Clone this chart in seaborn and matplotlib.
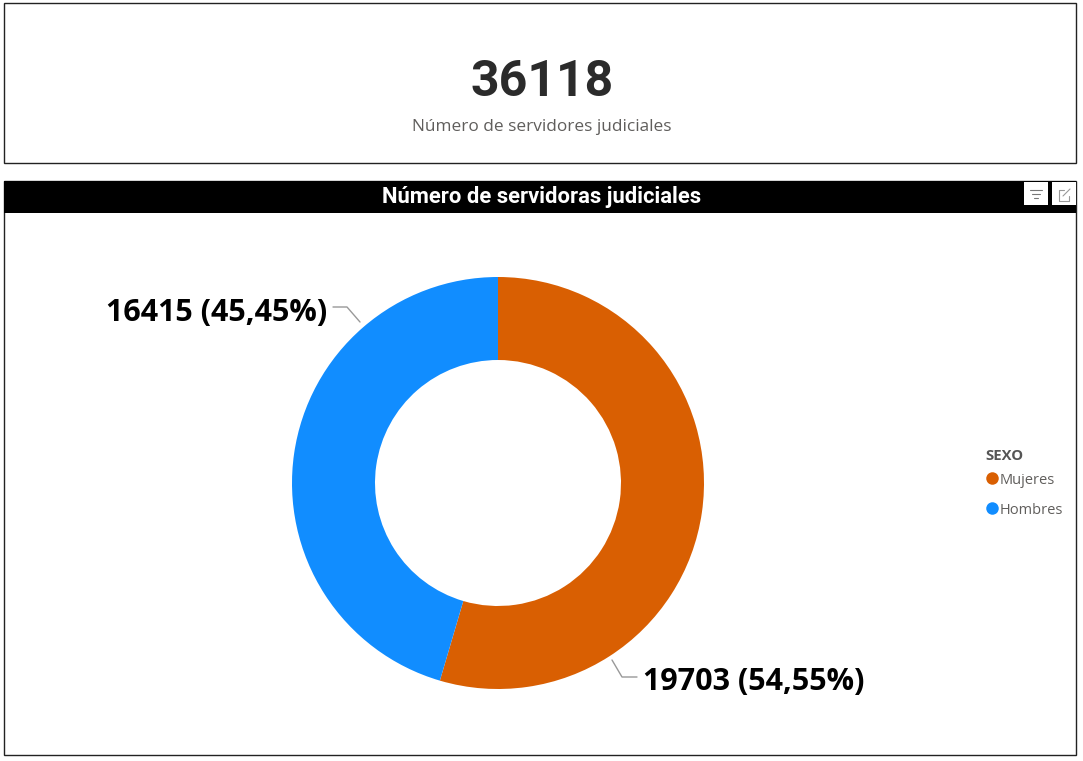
# donut chart of judicial staff by sex, with a KPI card on top
import matplotlib
matplotlib.use("AGG")
import matplotlib.pyplot as plt
from matplotlib.patches import Rectangle
import seaborn as sns

total_value = "36118"
total_label = "Número de servidores judiciales"
chart_title = "Número de servidoras judiciales"
legend_title = "SEXO"
categories = ["Mujeres", "Hombres"]
values = [19703, 16415]
value_labels = ["19703 (54,55%)", "16415 (45,45%)"]
colors = ["#D95F02", "#118DFF"]

sns.set_theme(style="white")
W, H = 1083, 761
fig = plt.figure(figsize=(W / 100, H / 100), dpi=100, facecolor="white")

# overlay in pixel coords for the cards and the texts
bg = fig.add_axes([0, 0, 1, 1])
bg.set_xlim(0, W)
bg.set_ylim(H, 0)
bg.axis("off")

bg.add_patch(Rectangle((4, 3), 1072, 160, fill=False, ec="#222222", lw=1))
bg.add_patch(Rectangle((4, 181), 1072, 574, fill=False, ec="#222222", lw=1))
bg.add_patch(Rectangle((4, 181), 1072, 32, fc="black", ec="none"))

bg.text(542, 83, total_value, ha="center", va="center", fontsize=36, fontweight="bold",
        family="Roboto", color="#2B2B2B")
bg.text(542, 127, total_label, ha="center", va="center", fontsize=12.4,
        family="Open Sans", color="#605E5C")
bg.text(542, 197, chart_title, ha="center", va="center", fontsize=15.8, fontweight="bold",
        family="Roboto", color="white")

# header icons
bg.add_patch(Rectangle((1024, 182), 24, 23, fc="white", ec="none"))
bg.add_patch(Rectangle((1052, 182), 24, 23, fc="white", ec="none"))
for y, half in [(189.5, 6), (193.5, 4), (197.5, 2)]:
    bg.plot([1036 - half, 1036 + half], [y, y], color="#777777", lw=0.8)
bg.plot([1064, 1059, 1059, 1069, 1069], [190, 190, 201, 201, 196], color="#999999", lw=0.8)
bg.plot([1063, 1070], [196, 189], color="#999999", lw=0.8)

# leader lines
bg.plot([333, 347, 360], [307, 307, 322], color="#999999", lw=1)
bg.plot([612, 622, 637], [660, 677, 677], color="#999999", lw=1)
bg.text(327, 313, value_labels[1], ha="right", va="center", fontsize=22, fontweight="bold",
        family="Open Sans", color="black")
bg.text(643, 682, value_labels[0], ha="left", va="center", fontsize=22, fontweight="bold",
        family="Open Sans", color="black")

# legend
bg.text(985, 456, legend_title, ha="left", va="center", fontsize=10.7, fontweight="bold",
        family="Open Sans", color="#555555")
for name, col, y in zip(categories, colors, [478, 508]):
    bg.plot(992, y, "o", ms=9, color=col, mec="none")
    bg.text(1000, y + 2, name, ha="left", va="center", fontsize=10.5,
            family="Open Sans", color="#605E5C")

# donut, radius 206 px centred on (498, 483)
cx, cy, box = 498, 483, 420
ax = fig.add_axes([(cx - box / 2) / W, 1 - (cy + box / 2) / H, box / W, box / H])
ax.pie(values, colors=colors, startangle=90, counterclock=False, radius=1,
       wedgeprops={"width": 83 / 206, "edgecolor": "none"})
ax.set_xlim(-box / 412, box / 412)
ax.set_ylim(-box / 412, box / 412)

fig.savefig("out.png", dpi=100)
